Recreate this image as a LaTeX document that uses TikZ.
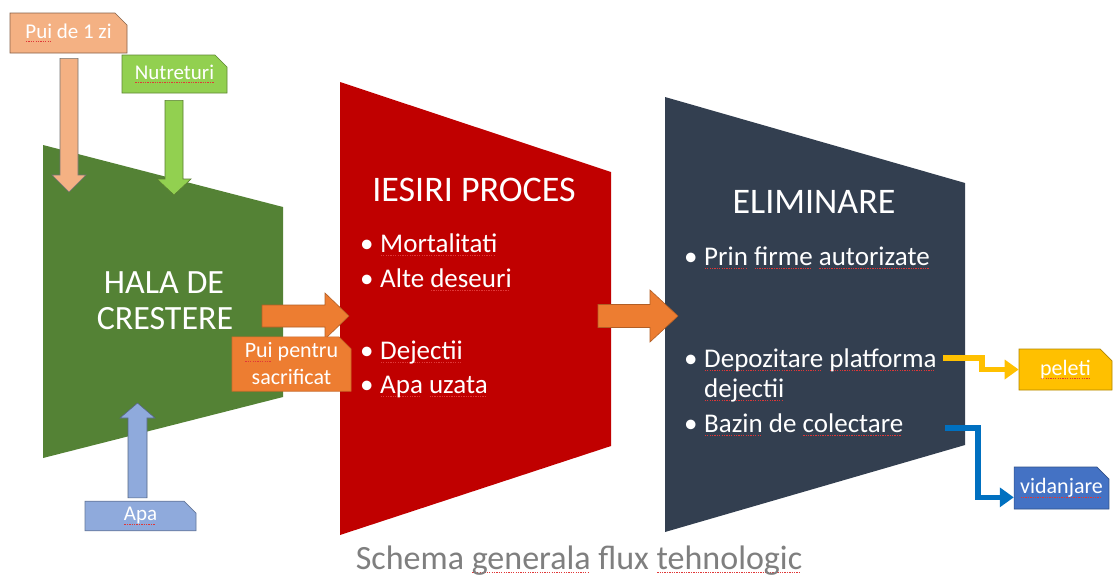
\documentclass[tikz,border=0pt]{standalone}
\usepackage{fontspec}
\setmainfont{Carlito}
\usetikzlibrary{calc,arrows.meta,shapes.misc}
\definecolor{cgreen}{HTML}{548235}
\definecolor{cred}{HTML}{C00000}
\definecolor{cdark}{HTML}{333F50}
\definecolor{corange}{HTML}{ED7D31}
\definecolor{csalmon}{HTML}{F4B183}
\definecolor{clgreen}{HTML}{92D050}
\definecolor{clblue}{HTML}{8FAADC}
\definecolor{cyellow}{HTML}{FFC000}
\definecolor{cblue}{HTML}{0070C0}
\definecolor{cvid}{HTML}{4472C4}
\definecolor{ccap}{HTML}{7F7F7F}
\definecolor{spell}{HTML}{E03838}
\newcommand\spw[1]{\leavevmode\setbox0\hbox{#1}\rlap{\color{spell}\hbox to\wd0{\leaders\hbox to 2.4pt{\hss\vrule height -3pt depth 4.2pt width 1.3pt\hss}\hfill}}\box0\relax}
\newcommand\blockarrow[6]{%
  \coordinate (bah) at ($(#3)!#6!(#2)$);
  \filldraw[#1] ($(#2)!#4!90:(#3)$) -- ($(bah)!#4!90:(#3)$) -- ($(bah)!#5!90:(#3)$) -- (#3)
    -- ($(bah)!#5!-90:(#3)$) -- ($(bah)!#4!-90:(#3)$) -- ($(#2)!#4!-90:(#3)$) -- cycle;}
\begin{document}
\begin{tikzpicture}[x=1pt,y=-1pt,
  txt/.style={inner sep=0pt, text=white},
  bul/.style={txt, anchor=base west, font=\fontsize{27}{30}\selectfont},
  headtxt/.style={txt, anchor=base, font=\fontsize{36}{40}\selectfont},
  tag/.style={chamfered rectangle, chamfered rectangle corners=north east,
    chamfered rectangle xsep=6pt, chamfered rectangle ysep=6pt, inner sep=0pt,
    text=white, font=\fontsize{21}{24}\selectfont, line width=0.7pt},
  barrow/.style={line width=0.6pt},
  elbow/.style={line width=5.5pt, -{Triangle[length=14pt,width=19pt]}},
]
\useasboundingbox (0,0) rectangle (1113,576);
\fill[white] (0,0) rectangle (1113,576);
% main shapes
\fill[cgreen] (43,145) -- (283,207) -- (283,397) -- (43,458) -- cycle;
\fill[cred] (340,82) -- (611,172) -- (611,446) -- (340,535) -- cycle;
\fill[cdark] (665,97) -- (965,183) -- (965,445) -- (665,532) -- cycle;
% texts in shapes
\node[txt, anchor=base, font=\fontsize{34}{36}\selectfont] (hala1) at (164,293) {HALA DE};
\node[txt, anchor=base, font=\fontsize{34}{36}\selectfont] (hala2) at (165,329) {CRESTERE};
\node[headtxt] (iesiri) at (474,201) {IESIRI PROCES};
\node[headtxt] (elim) at (814,213) {ELIMINARE};
\node[bul] (r1) at (360,252) {\makebox[20pt][l]{•}\spw{Mortalitati}};
\node[bul] (r2) at (360,287) {\makebox[20pt][l]{•}Alte \spw{deseuri}};
\node[bul] (r3) at (360,359) {\makebox[20pt][l]{•}\spw{Dejectii}};
\node[bul] (r4) at (360,393) {\makebox[20pt][l]{•}\spw{Apa} \spw{uzata}};
\node[bul] (e1) at (684,265) {\makebox[20pt][l]{•}\spw{Prin} \spw{firme} \spw{autorizate}};
\node[bul] (e2) at (684,367) {\makebox[20pt][l]{•}\spw{Depozitare} \spw{platforma}};
\node[bul] (e3) at (704,397) {\spw{dejectii}};
\node[bul] (e4) at (684,432) {\makebox[20pt][l]{•}\spw{Bazin} de \spw{colectare}};
% tag boxes
\node[tag, fill=csalmon, draw=csalmon!55!black, minimum width=117pt, minimum height=40pt] (pui) at (68.5,33) {\spw{Pui} de 1 zi};
\node[tag, fill=clgreen, draw=clgreen!65!black, minimum width=105pt, minimum height=38pt] (nutr) at (174.5,74) {\spw{Nutreturi}};
\node[tag, fill=clblue, draw=clblue!70!black, minimum width=111pt, minimum height=28pt] (apa) at (140.5,516) {\spw{Apa}};
% arrows into hala
\coordinate (t1) at (69,192);
\coordinate (t2) at (174,195);
\coordinate (t3) at (137.5,403);
\blockarrow{barrow, fill=csalmon, draw=black!55}{$(pui.south)+(0.5,5)$}{t1}{9pt}{17pt}{17pt}
\blockarrow{barrow, fill=clgreen, draw=clgreen!60!black}{$(nutr.south)+(-0.5,7)$}{t2}{9pt}{17pt}{16pt}
\blockarrow{barrow, fill=clblue, draw=clblue!60!black}{$(apa.north)+(-3,-3)$}{t3}{9.5pt}{17.5pt}{15pt}
% orange process arrows
\coordinate (o1s) at (262,316);
\coordinate (o1t) at (349,316);
\coordinate (o2s) at (598,316);
\coordinate (o2t) at (678,316);
\blockarrow{barrow, fill=corange, draw=corange!75!black}{o1s}{o1t}{11pt}{23pt}{24pt}
\blockarrow{barrow, fill=corange, draw=corange!75!black}{o2s}{o2t}{11.5pt}{26pt}{28pt}
\node[tag, fill=corange, draw=corange!85!black, align=center, font=\fontsize{22}{27}\selectfont, minimum width=119pt, minimum height=50pt] (sacr) at (291.5,364) {\spw{Pui} pentru\\sacrificat};
% output boxes
\node[tag, fill=cyellow, draw=cyellow!70!black, font=\fontsize{22}{24}\selectfont, minimum width=93pt, minimum height=41pt] (pel) at (1065.5,369.5) {\spw{peleti}};
\node[tag, fill=cvid, draw=cvid!70!black, font=\fontsize{22}{24}\selectfont, minimum width=93pt, minimum height=42pt] (vid) at (1061.5,488) {\spw{vidanjare}};
% elbow connectors
\coordinate (ys) at (943,358);
\coordinate (bs) at (945,428);
\draw[elbow, cyellow] (ys) -- ++(39,0) |- (pel.west);
\draw[elbow, cblue] (bs) -- ++(33,0) |- ($(vid.south west)+(0,-12)$);
% caption
\node[anchor=base, inner sep=0pt, text=ccap, font=\fontsize{34}{36}\selectfont] (cap) at (579,569) {Schema \spw{generala} flux \spw{tehnologic}};
\end{tikzpicture}
\end{document}
